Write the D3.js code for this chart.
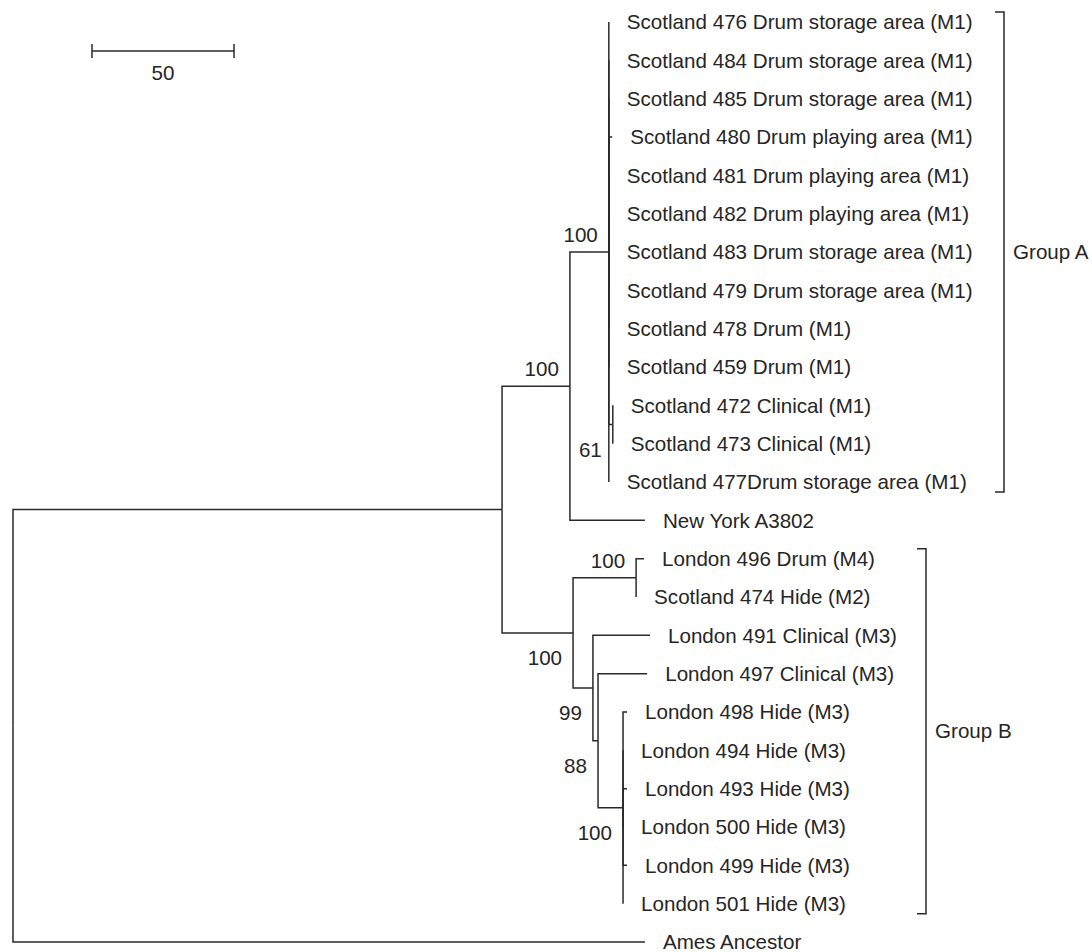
<!DOCTYPE html>
<html lang="en">
<head>
    <meta charset="UTF-8">
    <script src="https://d3js.org/d3.v7.min.js"></script>
    <title>Phylogenetic tree</title>
    <style>
        body { margin: 0; background: #fff; }
        text { font-family: "Liberation Sans", Arial, Helvetica, sans-serif; fill: #262626; }
    </style>
</head>
<body>
    <div id="chart"></div>
    <script>
        // leaf order, top to bottom
        var leafNames = [
            "Scotland 476 Drum storage area (M1)",
            "Scotland 484 Drum storage area (M1)",
            "Scotland 485 Drum storage area (M1)",
            "Scotland 480 Drum playing area (M1)",
            "Scotland 481 Drum playing area (M1)",
            "Scotland 482 Drum playing area (M1)",
            "Scotland 483 Drum storage area (M1)",
            "Scotland 479 Drum storage area (M1)",
            "Scotland 478 Drum (M1)",
            "Scotland 459 Drum (M1)",
            "Scotland 472 Clinical (M1)",
            "Scotland 473 Clinical (M1)",
            "Scotland 477Drum storage area (M1)",
            "New York A3802",
            "London 496 Drum (M4)",
            "Scotland 474 Hide (M2)",
            "London 491 Clinical (M3)",
            "London 497 Clinical (M3)",
            "London 498 Hide (M3)",
            "London 494 Hide (M3)",
            "London 493 Hide (M3)",
            "London 500 Hide (M3)",
            "London 499 Hide (M3)",
            "London 501 Hide (M3)",
            "Ames Ancestor"
        ];

        // [node, parent, branch length]
        var edges = [
            ["root", null, 0],
            ["n1", "root", 172.2],
            ["n2", "n1", 23.9],
            ["gA", "n2", 13.7],
            ["Scotland 476 Drum storage area (M1)", "gA", 0],
            ["Scotland 484 Drum storage area (M1)", "gA", 0],
            ["Scotland 485 Drum storage area (M1)", "gA", 0],
            ["Scotland 480 Drum playing area (M1)", "gA", 1.2],
            ["Scotland 481 Drum playing area (M1)", "gA", 0],
            ["Scotland 482 Drum playing area (M1)", "gA", 0],
            ["Scotland 483 Drum storage area (M1)", "gA", 0],
            ["Scotland 479 Drum storage area (M1)", "gA", 0],
            ["Scotland 478 Drum (M1)", "gA", 0],
            ["Scotland 459 Drum (M1)", "gA", 0],
            ["n61", "gA", 1.4],
            ["Scotland 472 Clinical (M1)", "n61", 0],
            ["Scotland 473 Clinical (M1)", "n61", 0],
            ["Scotland 477Drum storage area (M1)", "gA", 0],
            ["New York A3802", "n2", 26.4],
            ["gB", "n1", 25.0],
            ["b1", "gB", 22.2],
            ["London 496 Drum (M4)", "b1", 2.8],
            ["Scotland 474 Hide (M2)", "b1", 0],
            ["b2", "gB", 7.0],
            ["London 491 Clinical (M3)", "b2", 20.1],
            ["b3", "b2", 1.8],
            ["London 497 Clinical (M3)", "b3", 17.3],
            ["b4", "b3", 8.8],
            ["London 498 Hide (M3)", "b4", 1.4],
            ["London 494 Hide (M3)", "b4", 0],
            ["London 493 Hide (M3)", "b4", 1.4],
            ["London 500 Hide (M3)", "b4", 0],
            ["London 499 Hide (M3)", "b4", 1.4],
            ["London 501 Hide (M3)", "b4", 0],
            ["Ames Ancestor", "root", 222.5]
        ];

        // bootstrap support [node, value, side]
        var support = [
            ["gA", 100, "above"],
            ["n2", 100, "above"],
            ["n61", 61, "below"],
            ["b1", 100, "above"],
            ["gB", 100, "below"],
            ["b2", 99, "below"],
            ["b3", 88, "below"],
            ["b4", 100, "below"]
        ];

        var groups = [
            { name: "Group A", first: "Scotland 476 Drum storage area (M1)", last: "Scotland 477Drum storage area (M1)", x: 1004 },
            { name: "Group B", first: "London 496 Drum (M4)", last: "London 501 Hide (M3)", x: 926 }
        ];

        var scaleBarValue = 50;

        var width = 1092;
        var height = 952;
        var fontSize = 20.6;

        var svg = d3.select("#chart")
                    .append("svg")
                    .attr("width", width)
                    .attr("height", height);

        var x = d3.scaleLinear().domain([0, 50]).range([13, 155]);
        var y = d3.scalePoint().domain(leafNames).range([22, 942]);

        var root = d3.stratify()
                     .id(d => d[0])
                     .parentId(d => d[1])(edges);

        root.each(d => {
            d.dist = d.parent ? d.parent.dist + d.data[2] : 0;
            d.px = x(d.dist);
        });
        root.eachAfter(d => {
            if (d.children) {
                d.py = (d.children[0].py + d.children[d.children.length - 1].py) / 2;
            } else {
                d.py = y(d.id);
            }
        });

        var byId = new Map(root.descendants().map(d => [d.id, d]));

        var tree = svg.append("g");

        tree.selectAll(".link")
            .data(root.links())
            .enter()
            .append("path")
            .attr("class", "link")
            .attr("d", l => `M${l.source.px},${l.source.py}V${l.target.py}H${l.target.px}`)
            .attr("fill", "none")
            .attr("stroke", "#2a2a2a")
            .attr("stroke-width", 1.5);

        tree.selectAll(".leaf")
            .data(root.leaves())
            .enter()
            .append("text")
            .attr("class", "leaf")
            .attr("x", d => d.px + 18)
            .attr("y", d => d.py)
            .attr("dy", "0.35em")
            .attr("font-size", fontSize)
            .text(d => d.id);

        tree.selectAll(".support")
            .data(support)
            .enter()
            .append("text")
            .attr("class", "support")
            .attr("text-anchor", "end")
            .attr("x", s => byId.get(s[0]).px - 11)
            .attr("y", s => byId.get(s[0]).py + (s[2] == "above" ? -10 : 32))
            .attr("font-size", fontSize)
            .text(s => s[1]);

        // brackets
        var brackets = svg.selectAll(".group")
                          .data(groups)
                          .enter()
                          .append("g")
                          .attr("class", "group");

        brackets.append("path")
                .attr("d", g => {
                    var y0 = y(g.first) - 10, y1 = y(g.last) + 10;
                    return `M${g.x - 9},${y0}H${g.x}V${y1}H${g.x - 9}`;
                })
                .attr("fill", "none")
                .attr("stroke", "#2a2a2a")
                .attr("stroke-width", 1.5);

        brackets.append("text")
                .attr("x", g => g.x + 9)
                .attr("y", g => (y(g.first) + y(g.last)) / 2)
                .attr("dy", "0.35em")
                .attr("font-size", fontSize)
                .text(g => g.name);

        // scale bar
        var sb = svg.append("g").attr("transform", "translate(79,51)");
        var x0 = x(0), x1 = x(scaleBarValue);
        sb.append("path")
          .attr("d", `M${x0},-7V7M${x0},0H${x1}M${x1},-7V7`)
          .attr("fill", "none")
          .attr("stroke", "#2a2a2a")
          .attr("stroke-width", 1.5);
        sb.append("text")
          .attr("x", (x0 + x1) / 2)
          .attr("y", 29)
          .attr("text-anchor", "middle")
          .attr("font-size", fontSize)
          .text(scaleBarValue);
    </script>
</body>
</html>
